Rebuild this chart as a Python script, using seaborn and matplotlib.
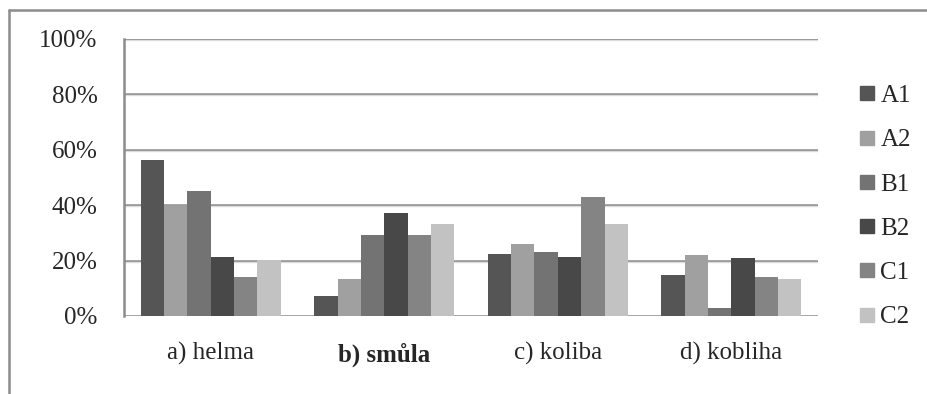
import pandas as pd
import seaborn as sns
import matplotlib.pyplot as plt
from matplotlib.lines import Line2D

# Values (percent)
categories = ['a) helma', 'b) smůla', 'c) koliba', 'd) kobliha']
levels = ['A1', 'A2', 'B1', 'B2', 'C1', 'C2']
a1 = [56.2, 7.1, 22.2, 14.9]
a2 = [39.5, 13.2, 25.9, 22.1]
b1 = [45.0, 29.1, 23.0, 3.0]
b2 = [21.2, 37.1, 21.2, 21.0]
c1 = [14.0, 29.1, 42.9, 13.9]
c2 = [20.1, 33.1, 33.1, 13.2]
y_ticks = [0, 20, 40, 60, 80, 100]

colors = ['#555555', '#a0a0a0', '#737373', '#484848', '#848484', '#c2c2c2']

# long table for seaborn
rows = []
for lvl, vals in zip(levels, [a1, a2, b1, b2, c1, c2]):
    for cat, v in zip(categories, vals):
        rows.append({'word': cat, 'level': lvl, 'share': v})
df = pd.DataFrame(rows)

sns.set_style('white')
plt.rcParams['font.family'] = ['Liberation Serif', 'DejaVu Serif']
fs = 18

fig = plt.figure(figsize=(9.28, 3.94), dpi=100)
ax = fig.add_axes([0.1336, 0.198, 0.748, 0.704])

# gridlines under the bars
for t in y_ticks:
    ax.axhline(t, color='#8c8c8c', lw=1.8, zorder=0)
    ax.axhline(t - 0.45, color='#dcdcdc', lw=1.0, zorder=0)

sns.barplot(data=df, x='word', y='share', hue='level', palette=colors,
            width=0.807, saturation=1, linewidth=0, ax=ax, zorder=2,
            legend=False)

ax.set_ylim(0, 100)
ax.set_xlim(-0.5, 3.5)
ax.set_yticks(y_ticks)
ax.set_yticklabels([f'{t}%' for t in y_ticks], fontsize=fs)
ax.set_xticks(range(len(categories)))
ax.set_xticklabels(categories, fontsize=fs)
ax.get_xticklabels()[1].set_fontweight('bold')
ax.tick_params(axis='y', length=0, pad=19)
ax.tick_params(axis='x', length=0, pad=19)
ax.set_xlabel('')
ax.set_ylabel('')

for s in ['top', 'right', 'bottom']:
    ax.spines[s].set_visible(False)
ax.spines['left'].set_color('#8c8c8c')
ax.spines['left'].set_linewidth(1.8)

# legend on the right
handles = [Line2D([], [], marker='s', ls='', markersize=10, color=c) for c in colors]
fig.legend(handles, levels, loc='center left', bbox_to_anchor=(0.907, 0.476),
           frameon=False, fontsize=fs, labelspacing=0.87, handletextpad=0.05,
           handlelength=1.0, borderpad=0)

# outer frame (left and top edges only are visible)
fig.add_artist(Line2D([9 / 928, 9 / 928], [0, 1 - 10 / 394],
                      transform=fig.transFigure, color='#8c8c8c', lw=1.8))
fig.add_artist(Line2D([9 / 928, 1], [1 - 10 / 394, 1 - 10 / 394],
                      transform=fig.transFigure, color='#8c8c8c', lw=1.8))

fig.savefig('out.png', dpi=100)
